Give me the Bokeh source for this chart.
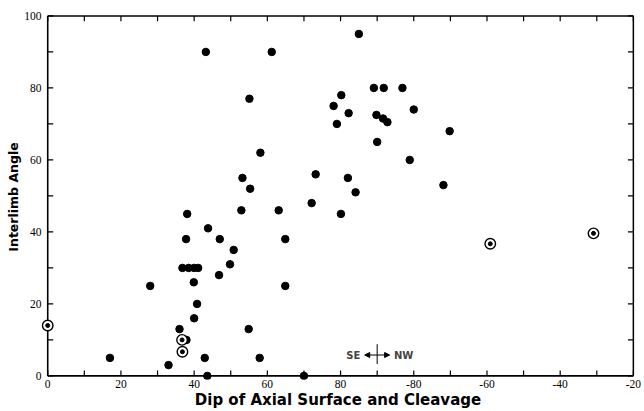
from bokeh.plotting import figure
from bokeh.models import (Range1d, FixedTicker, Label, Arrow, NormalHead,
                          ColumnDataSource)
from bokeh.embed import file_html
from bokeh.resources import INLINE

# ---------------- data ----------------
# dip in 0..180 scale (values > 90 are NW dips, shown as -(180 - x))
dip = [17, 28, 33, 36, 36.8, 38.5, 40, 41.1, 37.8, 38.1, 37.9, 39.9, 40, 40.8,
       42.9, 43.6, 43.8, 43.2, 46.8, 47, 49.8, 50.8, 52.9, 53.2, 54.9, 55.3,
       55.1, 57.9, 58.1, 61.2, 63.1, 64.9, 64.9, 70, 72.1, 73.2, 78.1, 79,
       80.1, 80.2, 82, 82.2, 84.1, 85, 89.1, 91.8, 96.9, 89.8, 91.6, 92.8,
       90, 100, 98.9, 109.8, 108.1]
angle = [5, 25, 3, 13, 30, 30, 30, 30, 38, 45, 10, 26, 16, 20,
         5, 0, 41, 90, 28, 38, 31, 35, 46, 55, 13, 52,
         77, 5, 62, 90, 46, 38, 25, 0, 48, 56, 75, 70,
         45, 78, 55, 73, 51, 95, 80, 80, 80, 72.5, 71.5, 70.5,
         65, 74, 60, 68, 53]
circled_dip = [0, 36.7, 36.8, 120.9, 149.1]
circled_angle = [14, 10, 6.7, 36.7, 39.6]

x_ticks = [0, 20, 40, 60, 80, 100, 120, 140, 160]
x_minor = [10, 30, 50, 70, 90, 110, 130, 150]
x_tick_labels = ["0", "20", "40", "60", "80", "-80", "-60", "-40", "-20"]
y_ticks = [0, 20, 40, 60, 80, 100]
y_minor = [10, 30, 50, 70, 90]

x_title = "Dip of Axial Surface and Cleavage"
y_title = "Interlimb Angle"

x_min, x_max = 0, 160
y_min, y_max = 0, 100

# SE / NW compass
compass_x = 90
compass_y = 5.8
compass_bar = (3.3, 8.8)
compass_arm = 3.4

FONT = "DejaVu Sans"
TICK_FONT = "Liberation Sans Narrow"

p = figure(width=644, height=411,
           x_range=Range1d(x_min - 1.7, x_max + 0.3),
           y_range=Range1d(y_min - 1.0, y_max + 0.4),
           output_backend="svg", toolbar_location=None,
           min_border_left=41, min_border_right=10,
           min_border_top=14, min_border_bottom=0)
p.outline_line_color = None
p.grid.visible = False
p.background_fill_color = "white"
p.border_fill_color = "white"

for ax in (p.xaxis[0], p.yaxis[0]):
    ax.axis_line_color = None
    ax.major_tick_in = 0
    ax.major_tick_out = 0
    ax.minor_tick_in = 0
    ax.minor_tick_out = 0
    ax.major_label_text_font = TICK_FONT
    ax.major_label_text_font_size = "11.5px"
    ax.major_label_text_color = "black"
    ax.axis_label_text_font = FONT
    ax.axis_label_text_font_style = "bold"
    ax.axis_label_text_color = "black"

xa = p.xaxis[0]
xa.ticker = FixedTicker(ticks=x_ticks)
xa.major_label_overrides = {t: s for t, s in zip(x_ticks, x_tick_labels)}
xa.major_label_standoff = 0
xa.axis_label = x_title
xa.axis_label_text_font_size = "15px"
xa.axis_label_standoff = 0

ya = p.yaxis[0]
ya.ticker = FixedTicker(ticks=y_ticks)
ya.major_label_standoff = 0
ya.axis_label = y_title
ya.axis_label_text_font_size = "12.5px"
ya.axis_label_standoff = 0

# frame box drawn at the data limits
p.segment(x0=[x_min, x_min, x_min, x_max], y0=[y_min, y_max, y_min, y_min],
          x1=[x_max, x_max, x_min, x_max], y1=[y_min, y_max, y_max, y_max],
          line_color="black", line_width=1.6)

# inward ticks on all four sides (every 10 units)
xt_all = sorted(x_ticks + x_minor)
yt_all = sorted(y_ticks + y_minor)
tick_y = 1.5   # tick length in y data units
tick_x = 1.5   # tick length in x data units
p.segment(x0=xt_all, y0=[y_min] * len(xt_all), x1=xt_all,
          y1=[y_min + tick_y] * len(xt_all), line_color="black", line_width=1.2)
p.segment(x0=xt_all, y0=[y_max] * len(xt_all), x1=xt_all,
          y1=[y_max - tick_y] * len(xt_all), line_color="black", line_width=1.2)
p.segment(x0=[x_min] * len(yt_all), y0=yt_all, x1=[x_min + tick_x] * len(yt_all),
          y1=yt_all, line_color="black", line_width=1.2)
p.segment(x0=[x_max] * len(yt_all), y0=yt_all, x1=[x_max - tick_x] * len(yt_all),
          y1=yt_all, line_color="black", line_width=1.2)

src = ColumnDataSource(dict(x=dip, y=angle))
p.scatter("x", "y", source=src, marker="circle", size=7.5,
          fill_color="black", line_color="black")

csrc = ColumnDataSource(dict(x=circled_dip, y=circled_angle))
p.scatter("x", "y", source=csrc, marker="circle", size=10.5,
          fill_color="white", line_color="black", line_width=1.4)
p.scatter("x", "y", source=csrc, marker="circle", size=4,
          fill_color="black", line_color="black")

# compass
p.segment(x0=[compass_x], y0=[compass_bar[0]], x1=[compass_x], y1=[compass_bar[1]],
          line_color="black", line_width=1)
for d in (-1, 1):
    p.add_layout(Arrow(x_start=compass_x, y_start=compass_y,
                       x_end=compass_x + d * compass_arm, y_end=compass_y,
                       line_width=1, line_color="black",
                       end=NormalHead(size=5, fill_color="black", line_color="black")))
p.add_layout(Label(x=compass_x - compass_arm - 1.2, y=compass_y, text="SE",
                   text_align="right", text_baseline="middle",
                   text_font=FONT, text_font_size="10px", text_font_style="bold"))
p.add_layout(Label(x=compass_x + compass_arm + 1.2, y=compass_y, text="NW",
                   text_align="left", text_baseline="middle",
                   text_font=FONT, text_font_size="10px", text_font_style="bold"))

open("out.html", "w").write(file_html(p, INLINE))
